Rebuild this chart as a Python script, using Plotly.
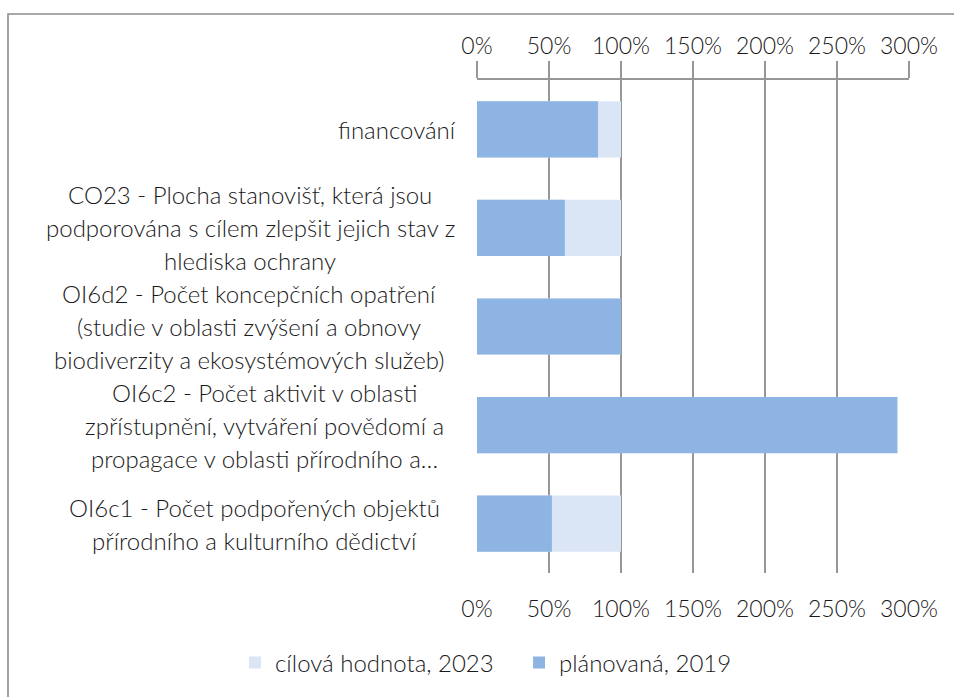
import plotly.graph_objects as go

categories = [
    "financování",
    "CO23 - Plocha stanovišť, která jsou<br>podporována s cílem zlepšit jejich stav z<br>hlediska ochrany",
    "OI6d2 - Počet koncepčních opatření<br>(studie v oblasti zvýšení a obnovy<br>biodiverzity a ekosystémových služeb)",
    "OI6c2 - Počet aktivit v oblasti<br>zpřístupnění, vytváření povědomí a<br>propagace v oblasti přírodního a…",
    "OI6c1 - Počet podpořených objektů<br>přírodního a kulturního dědictví",
]
target_2023 = [1.00, 1.00, 1.00, 1.00, 1.00]
planned_2019 = [0.84, 0.61, 1.00, 2.92, 0.52]
series_names = ["cílová hodnota, 2023", "plánovaná, 2019"]
tick_vals = [0, 0.5, 1.0, 1.5, 2.0, 2.5, 3.0]
tick_text = ["0%", "50%", "100%", "150%", "200%", "250%", "300%"]

# body margin is removed in the page (post_script), so figure px == page px
W, H = 954, 697
L, T = 477, 80
PLOT_R, PLOT_B = 909, 573
R, B = W - PLOT_R, H - PLOT_B
PW, PH = PLOT_R - L, PLOT_B - T

# label block centres (px) as in the reference layout
label_centres = [397, 250, 249, 264, 254]

FONT = "Lato"
WEIGHT = 300
TXT = "#1a1a1a"
GRID = "#979797"

fig = go.Figure()
fig.add_trace(go.Bar(
    y=categories, x=target_2023, orientation="h", name=series_names[0],
    marker=dict(color="#dae6f5", line=dict(width=0)),
    xaxis="x", yaxis="y",
))
fig.add_trace(go.Bar(
    y=categories, x=planned_2019, orientation="h", name=series_names[1],
    marker=dict(color="#8eb4e3", line=dict(width=0)),
    xaxis="x2", yaxis="y",
))

annotations = []
line_h = 33
for cat, cx in zip(categories, label_centres):
    lines = cat.split("<br>")
    n = len(lines)
    for i, ln in enumerate(lines):
        annotations.append(dict(
            xref="paper", yref="y", x=(cx - L) / PW, y=cat,
            text=ln, showarrow=False, xanchor="center", yanchor="middle",
            yshift=((n - 1) / 2 - i) * line_h,
            font=dict(family=FONT, size=24, color=TXT, weight=WEIGHT),
        ))

tickfont = dict(family=FONT, size=23, color=TXT, weight=WEIGHT)

# chart frame: left and top edges only (the rest runs off the image)
fx0 = (8 - L) / PW
fx1 = (W + 10 - L) / PW
fy0 = -(H + 10 - PLOT_B) / PH
fy1 = (PLOT_B - 14) / PH
frame_path = f"M {fx0},{fy0} L {fx0},{fy1} L {fx1},{fy1}"

fig.update_layout(
    width=W, height=H,
    margin=dict(l=L, r=R, t=T, b=B, pad=0, autoexpand=False),
    paper_bgcolor="white", plot_bgcolor="white",
    barmode="overlay", bargap=0.43,
    font=dict(family=FONT, size=23, color=TXT, weight=WEIGHT),
    xaxis=dict(
        range=[0, 3], tickvals=tick_vals, ticktext=tick_text,
        showgrid=True, gridcolor=GRID, gridwidth=1.6,
        showline=False, ticks="", zeroline=False,
        ticklabelstandoff=20, side="bottom",
        tickfont=tickfont,
    ),
    xaxis2=dict(
        range=[0, 3], tickvals=tick_vals, ticktext=tick_text,
        overlaying="x", side="top", matches="x", anchor="y",
        showgrid=False, showline=True, linecolor=GRID, linewidth=1.6,
        ticks="outside", ticklen=17, tickcolor=GRID, tickwidth=1.6,
        zeroline=False, ticklabelstandoff=-2,
        tickfont=tickfont,
    ),
    yaxis=dict(
        categoryorder="array", categoryarray=categories,
        autorange="reversed", showticklabels=False, showgrid=False,
        showline=False, ticks="", zeroline=False,
    ),
    legend=dict(
        orientation="h",
        x=(253 - 18 - L) / PW, xanchor="left",
        y=(PLOT_B - 663) / PH, yanchor="middle",
        font=dict(family=FONT, size=24, color=TXT, weight=WEIGHT),
        traceorder="normal", itemwidth=30, entrywidth=239,
    ),
    annotations=annotations,
    shapes=[dict(
        type="path", xref="paper", yref="paper", path=frame_path,
        line=dict(color="#8c8c8c", width=1.6), fillcolor="rgba(0,0,0,0)",
        layer="below",
    )],
    showlegend=True,
)

fig.write_html(
    "out.html",
    config={"displayModeBar": False},
    post_script="document.body.style.margin='0';document.body.style.overflow='hidden';",
)
